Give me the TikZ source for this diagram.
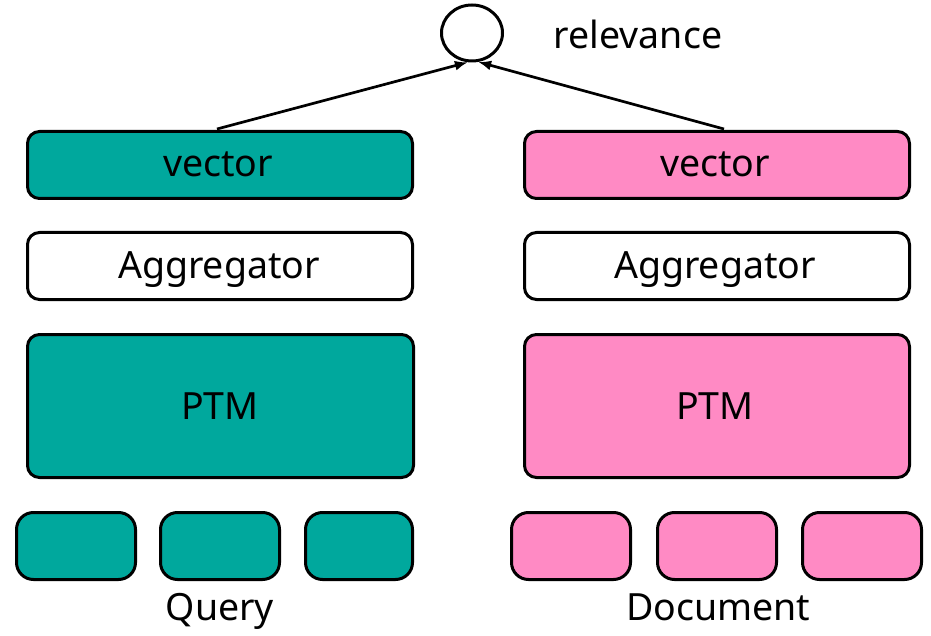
\documentclass[tikz,border=0pt]{standalone}
\usepackage{fontspec}
\setmainfont{Noto Sans}
\usetikzlibrary{arrows.meta,shapes.geometric}
\definecolor{teal}{RGB}{0,168,157}
\definecolor{pinkc}{RGB}{255,138,196}
\tikzset{
  box/.style={draw=black,line width=3pt,rounded corners=12pt,inner sep=0pt,anchor=north west},
  smallbox/.style={draw=black,line width=3pt,rounded corners=17pt,inner sep=0pt,anchor=north west,minimum height=67pt},
  lbl/.style={font=\fontsize{37.5}{44}\selectfont,anchor=base,inner sep=0pt},
  arr/.style={line width=2.7pt,-{Latex[length=13pt,width=10pt]}}
}
\begin{document}
\begin{tikzpicture}[x=1pt,y=-1pt]
\useasboundingbox (0,0) rectangle (931,636);
% circle
\node[draw=black,line width=3pt,ellipse,minimum width=61pt,minimum height=56pt,inner sep=0pt] (c) at (472,33) {};
\node[lbl] (rel) at (638,49) {relevance};
% left column
\node[box,fill=teal,minimum width=385pt,minimum height=67pt] (qv) at (26,130) {};
\node[box,fill=white,minimum width=385pt,minimum height=67pt] (qa) at (26,231) {};
\node[box,fill=teal,minimum width=386pt,minimum height=143pt] (qp) at (26,333) {};
\node[smallbox,fill=teal,minimum width=119pt] (q1) at (15,511) {};
\node[smallbox,fill=teal,minimum width=119pt] (q2) at (159,511) {};
\node[smallbox,fill=teal,minimum width=107pt] (q3) at (304,511) {};
\node[lbl] (qvt) at (218,177) {vector};
\node[lbl] (qat) at (219,278) {Aggregator};
\node[lbl] (qpt) at (220,419) {PTM};
\node[lbl] (qq) at (220,620) {Query};
% right column
\node[box,fill=pinkc,minimum width=385pt,minimum height=67pt] (dv) at (523,130) {};
\node[box,fill=white,minimum width=385pt,minimum height=67pt] (da) at (523,231) {};
\node[box,fill=pinkc,minimum width=385pt,minimum height=143pt] (dp) at (523,333) {};
\node[smallbox,fill=pinkc,minimum width=119pt] (d1) at (510,511) {};
\node[smallbox,fill=pinkc,minimum width=119pt] (d2) at (656,511) {};
\node[smallbox,fill=pinkc,minimum width=119pt] (d3) at (801,511) {};
\node[lbl] (dvt) at (715,177) {vector};
\node[lbl] (dat) at (715,278) {Aggregator};
\node[lbl] (dpt) at (715,419) {PTM};
\node[lbl,anchor=base west] (dd) at (626,620) {Document};
% arrows
\coordinate (qs) at ([xshift=-3pt,yshift=1pt]qv.north);
\coordinate (ds) at ([xshift=7pt,yshift=1pt]dv.north);
\draw[arr] (qs) -- (c.262);
\draw[arr] (ds) -- (c.282);
\end{tikzpicture}
\end{document}
